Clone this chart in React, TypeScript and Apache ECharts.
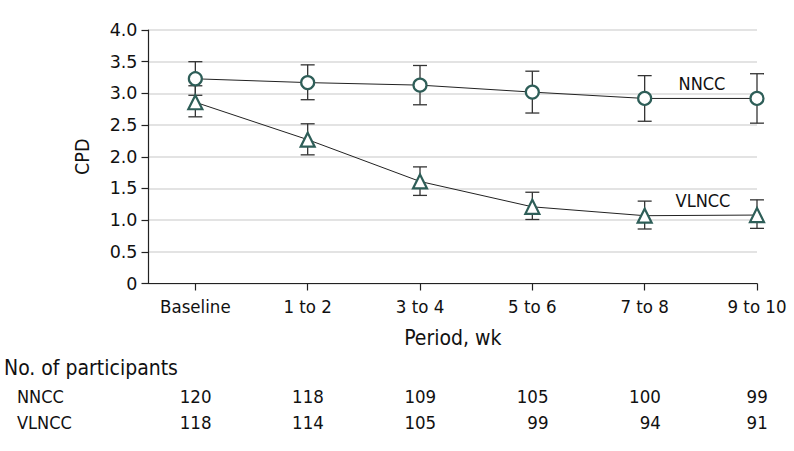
import React, { useEffect, useRef } from "react";
import * as echarts from "echarts";

const categories = ["Baseline", "1 to 2", "3 to 4", "5 to 6", "7 to 8", "9 to 10"];
const nnccMean = [3.23, 3.17, 3.13, 3.02, 2.92, 2.92];
const nnccLow = [2.97, 2.9, 2.82, 2.69, 2.56, 2.53];
const nnccHigh = [3.5, 3.45, 3.44, 3.35, 3.28, 3.31];
const vlnccMean = [2.86, 2.27, 1.61, 1.21, 1.07, 1.08];
const vlnccLow = [2.63, 2.03, 1.39, 1.01, 0.86, 0.87];
const vlnccHigh = [3.12, 2.52, 1.84, 1.44, 1.3, 1.32];
const nnccN = [120, 118, 109, 105, 100, 99];
const vlnccN = [118, 114, 105, 99, 94, 91];
const tickIndex = [0, 1, 2, 3, 4, 5];

const COND = "'DejaVu Sans Condensed', 'Liberation Sans Narrow', 'Roboto', sans-serif";
const SANS = "'DejaVu Sans', sans-serif";
const MARK = "#2e5e58";
const INK = "#222";

export default function App() {
  const ref = useRef<HTMLDivElement>(null);
  useEffect(() => {
    document.body.style.margin = "0";
    const chart = echarts.init(ref.current!, null, { renderer: "svg" });
    const errData = (lo: number[], hi: number[]) => lo.map((l, i) => [i, l, hi[i]]);
    const errSeries = (name: string, lo: number[], hi: number[]) => ({
      type: "custom",
      name,
      z: 1,
      silent: true,
      data: errData(lo, hi),
      encode: { x: 0, y: [1, 2] },
      renderItem: (params: any, api: any) => {
        const x = api.value(0);
        const p1 = api.coord([x, api.value(1)]);
        const p2 = api.coord([x, api.value(2)]);
        const w = 7;
        const style = { stroke: "#333", lineWidth: 1.3 };
        return {
          type: "group",
          children: [
            { type: "line", shape: { x1: p1[0], y1: p1[1], x2: p2[0], y2: p2[1] }, style },
            { type: "line", shape: { x1: p1[0] - w, y1: p1[1], x2: p1[0] + w, y2: p1[1] }, style },
            { type: "line", shape: { x1: p2[0] - w, y1: p2[1], x2: p2[0] + w, y2: p2[1] }, style },
          ],
        };
      },
    });
    const lineSeries = (name: string, vals: number[], symbol: string, size: number) => ({
      type: "line",
      name,
      z: 3,
      data: vals.map((v, i) => [i, v]),
      symbol,
      symbolSize: size,
      showAllSymbol: true,
      lineStyle: { color: INK, width: 1 },
      itemStyle: { color: "#fff", borderColor: MARK, borderWidth: 2.2 },
      emphasis: { disabled: true },
    });
    chart.setOption({
      animation: false,
      grid: { left: 148.5, right: 37, top: 30, bottom: 167.5, containLabel: false },
      xAxis: {
        type: "value",
        min: -0.417,
        max: 5,
        splitLine: { show: false },
        axisLine: { show: true, onZero: false, lineStyle: { color: INK, width: 1.2 } },
        axisTick: { show: true, length: 7, customValues: tickIndex, lineStyle: { color: INK, width: 1.2 } },
        axisLabel: {
          customValues: tickIndex,
          formatter: (v: number) => categories[Math.round(v)] ?? "",
          fontFamily: COND,
          fontSize: 18.5,
          color: "#111",
          margin: 13,
        },
        name: "Period, wk",
        nameLocation: "middle",
        nameGap: 44,
        nameTextStyle: { fontFamily: COND, fontSize: 21, color: "#111" },
      },
      yAxis: {
        type: "value",
        min: 0,
        max: 4,
        interval: 0.5,
        axisLine: { show: true, onZero: false, lineStyle: { color: INK, width: 1.2 } },
        axisTick: { show: true, length: 7, lineStyle: { color: INK, width: 1.2 } },
        axisLabel: {
          formatter: (v: number) => (v === 0 ? "0" : v.toFixed(1)),
          fontFamily: SANS,
          fontSize: 17.5,
          color: "#111",
          margin: 11,
        },
        splitLine: { show: true, lineStyle: { color: "#dadada", width: 1.5 } },
        name: "CPD",
        nameLocation: "middle",
        nameRotate: 90,
        nameGap: 56,
        nameTextStyle: { fontFamily: COND, fontSize: 19.5, color: "#111" },
      },
      series: [
        errSeries("NNCC CI", nnccLow, nnccHigh),
        errSeries("VLNCC CI", vlnccLow, vlnccHigh),
        lineSeries("NNCC", nnccMean, "circle", 13),
        lineSeries("VLNCC", vlnccMean, "triangle", 14),
      ],
    });

    const graphics: any[] = [
      { type: "text", x: 702, y: 83, style: { text: "NNCC", font: `18px ${COND}`, fill: "#111", textAlign: "center", textVerticalAlign: "middle" } },
      { type: "text", x: 703, y: 200, style: { text: "VLNCC", font: `18px ${COND}`, fill: "#111", textAlign: "center", textVerticalAlign: "middle" } },
      { type: "text", x: 4, y: 368, style: { text: "No. of participants", font: `21px ${COND}`, fill: "#111", textAlign: "left", textVerticalAlign: "middle" } },
      { type: "text", x: 17, y: 396, style: { text: "NNCC", font: `18px ${COND}`, fill: "#111", textAlign: "left", textVerticalAlign: "middle" } },
      { type: "text", x: 17, y: 422.5, style: { text: "VLNCC", font: `18px ${COND}`, fill: "#111", textAlign: "left", textVerticalAlign: "middle" } },
    ];
    tickIndex.forEach((i) => {
      const px = chart.convertToPixel({ xAxisIndex: 0 }, i) as number;
      const maxLen = Math.max(String(nnccN[i]).length, String(vlnccN[i]).length);
      const right = px + maxLen * 5.4;
      [
        [nnccN[i], 396],
        [vlnccN[i], 422.5],
      ].forEach(([v, y]) => {
        graphics.push({
          type: "text",
          x: right,
          y,
          style: { text: String(v), font: `18.5px ${COND}`, fill: "#111", textAlign: "right", textVerticalAlign: "middle" },
        });
      });
    });
    chart.setOption({ graphic: graphics });
    return () => chart.dispose();
  }, []);
  return <div ref={ref} style={{ width: 794, height: 451 }} />;
}
